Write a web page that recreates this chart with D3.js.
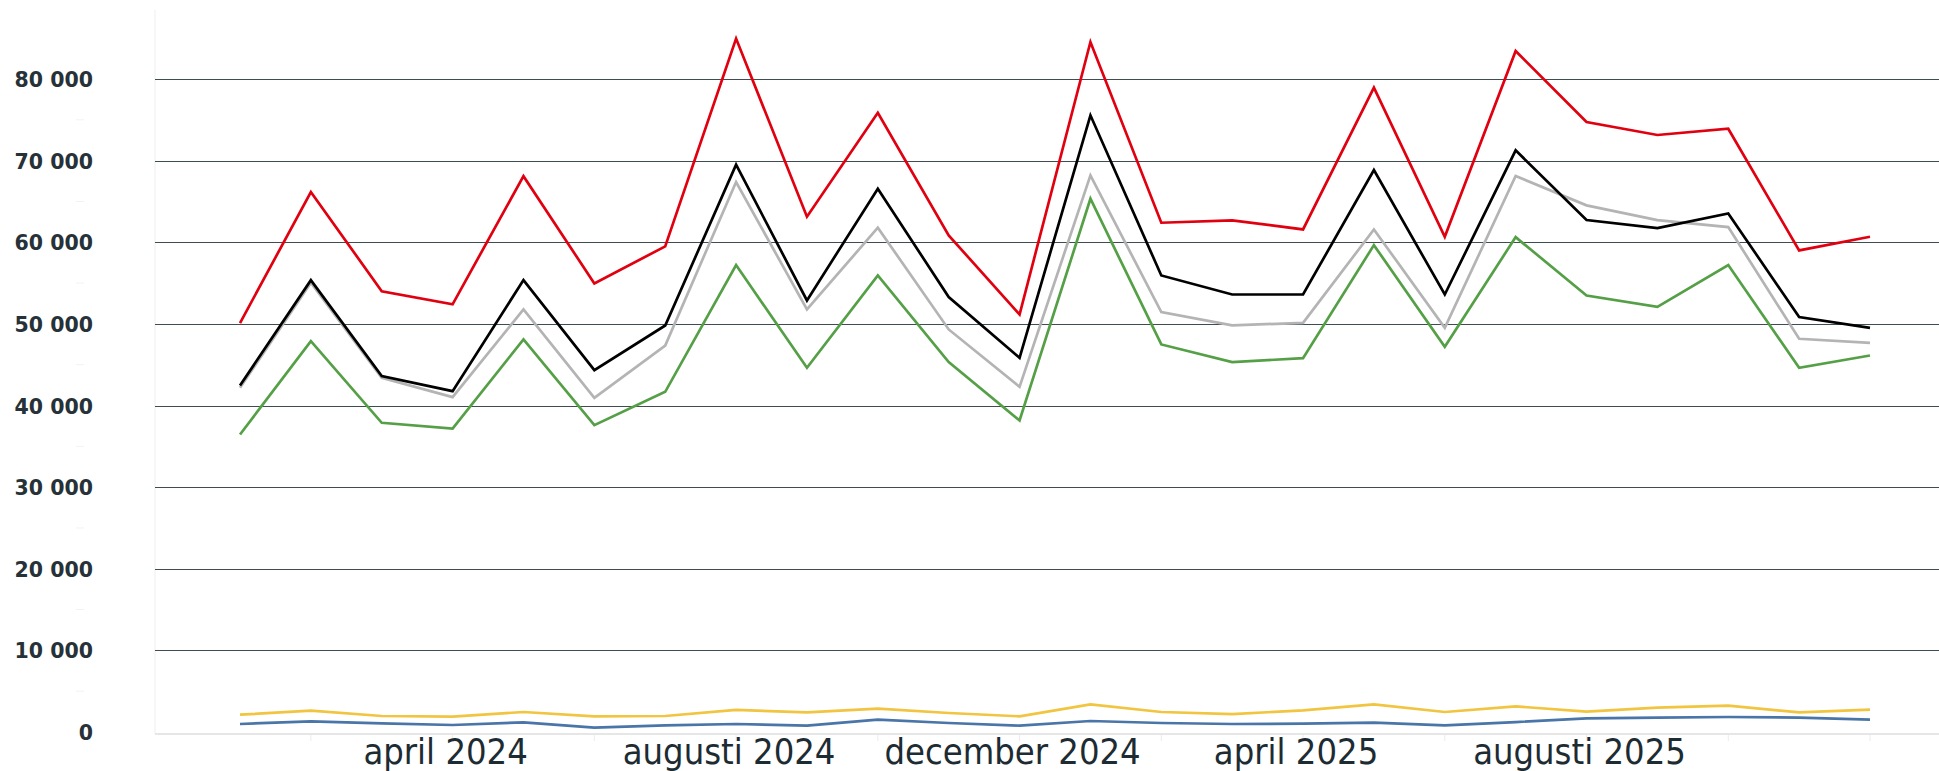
<!DOCTYPE html>
<html>
<head>
<meta charset="utf-8">
<script src="https://cdn.jsdelivr.net/npm/d3@7"></script>
<style>
  html, body { margin: 0; padding: 0; background: #ffffff; }
  svg { display: block; }
</style>
</head>
<body>
<svg id="chart" width="1939" height="771"></svg>
<script>
// Monthly series, January 2024 .. December 2025
const months = d3.range(24).map(i => new Date(2024, i, 1));
const xLabels = { 3: "april 2024", 7: "augusti 2024", 11: "december 2024", 15: "april 2025", 19: "augusti 2025" };
const yTicks = [0, 10000, 20000, 30000, 40000, 50000, 60000, 70000, 80000];

const redValues = [50100, 66150, 54000, 52400, 68100, 54950, 59500, 84950, 63130, 75870, 60840, 51150,
                   84530, 62390, 62680, 61570, 78940, 60670, 83430, 74730, 73140, 73910, 59000, 60670];
const blackValues = [42450, 55360, 43600, 41760, 55360, 44330, 49800, 69500, 52870, 66560, 53280, 45840,
                     75550, 55930, 53600, 53600, 68850, 53600, 71260, 62720, 61740, 63530, 50830, 49520];
const grayValues = [42160, 55040, 43390, 41020, 51770, 40940, 47350, 67380, 51770, 61780, 49320, 42290,
                    68190, 51440, 49810, 50130, 61570, 49520, 68110, 64520, 62720, 61860, 48170, 47680];
const greenValues = [36450, 47890, 37880, 37180, 48090, 37590, 41680, 57200, 44620, 55940, 45310, 38160,
                     65330, 47480, 45310, 45800, 59650, 47190, 60630, 53480, 52090, 57200, 44620, 46130];
const yellowValues = [2120, 2610, 1960, 1880, 2450, 1920, 1960, 2700, 2410, 2860, 2330, 1920,
                      3390, 2450, 2200, 2650, 3390, 2450, 3140, 2490, 2980, 3230, 2410, 2740];
const blueValues = [980, 1310, 1060, 860, 1180, 530, 820, 980, 780, 1510, 1100, 780,
                    1350, 1100, 980, 1020, 1140, 820, 1220, 1670, 1760, 1840, 1760, 1510];

const series = [
    { name: "gray", values: grayValues, color: "#b4b4b4" },
    { name: "black", values: blackValues, color: "#000000" },
    { name: "red", values: redValues, color: "#e1000f" },
    { name: "green", values: greenValues, color: "#55a047" },
    { name: "yellow", values: yellowValues, color: "#f1c540" },
    { name: "blue", values: blueValues, color: "#4a75a8" }
];

const svg = d3.select("#chart");
const plotLeft = 155;
const plotRight = 1939;

const x = d3.scalePoint()
    .domain(d3.range(months.length))
    .range([240, 1870]);

const y = d3.scaleLinear()
    .domain([0, 80000])
    .range([732, 79]);

// plot frame: faint left edge
svg.append("line")
    .attr("x1", plotLeft).attr("x2", plotLeft)
    .attr("y1", 10).attr("y2", 734)
    .attr("stroke", "#efefef").attr("stroke-width", 1);

// horizontal gridlines
svg.append("g")
    .selectAll("line")
    .data(yTicks.filter(d => d > 0))
    .join("line")
    .attr("x1", plotLeft).attr("x2", plotRight)
    .attr("y1", d => Math.round(y(d)) + 0.5)
    .attr("y2", d => Math.round(y(d)) + 0.5)
    .attr("stroke", "#3f4d53")
    .attr("stroke-width", 1.2);

// faint minor marks between labels
svg.append("g")
    .selectAll("line")
    .data(yTicks.map(d => d + 5000).filter(d => d < 80000))
    .join("line")
    .attr("x1", 76).attr("x2", 84)
    .attr("y1", d => y(d)).attr("y2", d => y(d))
    .attr("stroke", "#f2f2f2").attr("stroke-width", 1);

// bottom axis line
svg.append("line")
    .attr("x1", plotLeft).attr("x2", plotRight)
    .attr("y1", 734).attr("y2", 734)
    .attr("stroke", "#e6e6e6").attr("stroke-width", 2);

// faint month ticks under the axis
svg.append("g")
    .selectAll("line")
    .data(d3.range(1, months.length, 2))
    .join("line")
    .attr("x1", d => x(d)).attr("x2", d => x(d))
    .attr("y1", 735).attr("y2", 741)
    .attr("stroke", "#ececec").attr("stroke-width", 1);

// y tick labels
svg.append("g")
    .selectAll("text")
    .data(yTicks)
    .join("text")
    .attr("x", 93)
    .attr("y", d => y(d) + 8)
    .attr("text-anchor", "end")
    .attr("font-family", "DejaVu Sans, sans-serif")
    .attr("font-weight", "bold")
    .attr("font-size", 20.5)
    .attr("fill", "#263238")
    .text(d => d3.format(",")(d).replace(/,/g, " "));

// x tick labels
svg.append("g")
    .selectAll("text")
    .data(Object.keys(xLabels).map(Number))
    .join("text")
    .attr("x", d => x(d) - 7)
    .attr("y", 764)
    .attr("text-anchor", "middle")
    .attr("font-family", "'DejaVu Sans Condensed', 'DejaVu Sans', sans-serif")
    .style("font-stretch", "condensed")
    .attr("font-size", 36)
    .attr("fill", "#1d2b33")
    .text(d => xLabels[d]);

// series lines
const line = d3.line()
    .x((d, i) => x(i))
    .y(d => y(d));

svg.append("g")
    .selectAll("path")
    .data(series)
    .join("path")
    .attr("d", d => line(d.values))
    .attr("fill", "none")
    .attr("stroke", d => d.color)
    .attr("stroke-width", 2.7)
    .attr("stroke-linejoin", "miter");
</script>
</body>
</html>
